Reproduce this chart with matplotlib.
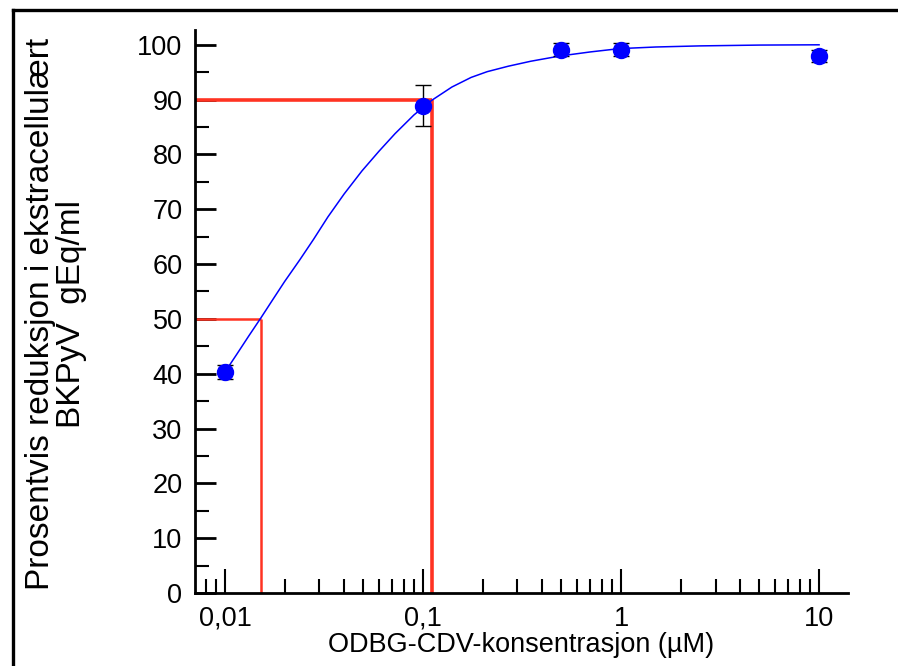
import matplotlib
matplotlib.use("Agg")
import matplotlib.pyplot as plt
from matplotlib.lines import Line2D
from matplotlib.ticker import FixedLocator, NullFormatter

plt.rcParams['font.family'] = ['Liberation Sans', 'DejaVu Sans']

# measured points
conc = [0.01, 0.1, 0.5, 1, 10]
reduction = [40.3, 88.9, 99.1, 99.1, 98.0]
err = [1.3, 3.7, 1.2, 1.2, 1.1]

# fitted curve
curve_x = [0.01, 0.0115, 0.0132, 0.0152, 0.0175, 0.02, 0.0239, 0.028, 0.0331,
           0.04, 0.0492, 0.06, 0.0723, 0.09, 0.111, 0.14, 0.175, 0.211, 0.27,
           0.35, 0.49, 0.7, 0.98, 1.5, 2.5, 5, 10]
curve_y = [40.3, 43.6, 46.9, 50.2, 53.6, 56.8, 60.8, 64.5, 68.6,
           72.8, 77.0, 80.6, 83.8, 87.2, 89.9, 92.3, 94.05, 95.1, 96.1,
           97.0, 97.95, 98.7, 99.3, 99.6, 99.8, 99.95, 100.0]

# EC50 / EC90 guides
ec_levels = [50, 90]
ec_conc = [0.0152, 0.111]
ec_widths = [1.8, 2.6]

fig = plt.figure(figsize=(8.98, 6.66), dpi=100)
ax = fig.add_axes([195 / 898, 73 / 666, 653 / 898, 563 / 666])

red = '#ff3322'
xmin = 0.00706
for lvl, c, lw in zip(ec_levels, ec_conc, ec_widths):
    ax.plot([xmin, c], [lvl, lvl], color=red, lw=lw, zorder=2, solid_capstyle='butt')
    ax.plot([c, c], [lvl, 0], color=red, lw=lw, zorder=2, solid_capstyle='butt')

ax.plot(curve_x, curve_y, color='#0000ff', lw=1.1, zorder=3)
ax.errorbar(conc, reduction, yerr=err, fmt='none', ecolor='black',
            elinewidth=1.0, capsize=6, capthick=1.0, zorder=4)
ax.plot(conc, reduction, 'o', color='#0000ff', markersize=11.5, zorder=5)

ax.set_xscale('log')
ax.set_xlim(xmin, 14.0)
ax.set_ylim(0, 102.7)

for s in ['top', 'right']:
    ax.spines[s].set_visible(False)
for s in ['left', 'bottom']:
    ax.spines[s].set_linewidth(2)

ax.set_yticks(range(0, 101, 10))
ax.set_yticks(range(5, 100, 10), minor=True)
ax.set_xticks([0.01, 0.1, 1, 10])
ax.set_xticklabels(['0,01', '0,1', '1', '10'])
minors = [m * 10.0 ** e for e in range(-3, 2) for m in range(2, 10)]
ax.xaxis.set_minor_locator(FixedLocator(minors))
ax.xaxis.set_minor_formatter(NullFormatter())

ax.tick_params(axis='both', which='major', direction='in', length=15, width=2,
               labelsize=19.5)
ax.tick_params(axis='both', which='minor', direction='in', length=10, width=1.5)
ax.tick_params(axis='x', which='major', length=17, width=1.5, pad=9)
ax.tick_params(axis='y', which='major', pad=9)

ax.set_xlabel('ODBG-CDV-konsentrasjon (µM)', fontsize=19.5, labelpad=0)
fig.text(56 / 898, 1 - 314 / 666,
         'Prosentvis reduksjon i ekstracellulært\nBKPyV  gEq/ml',
         rotation=90, ha='center', va='center', fontsize=24,
         multialignment='center', linespacing=1.0)

# outer frame
fig.add_artist(Line2D([13 / 898, 13 / 898], [0, 1 - 10 / 666],
                      transform=fig.transFigure, color='black', lw=2.4))
fig.add_artist(Line2D([13 / 898, 1], [1 - 10 / 666, 1 - 10 / 666],
                      transform=fig.transFigure, color='black', lw=2.4))

fig.savefig('out.png', dpi=100)
